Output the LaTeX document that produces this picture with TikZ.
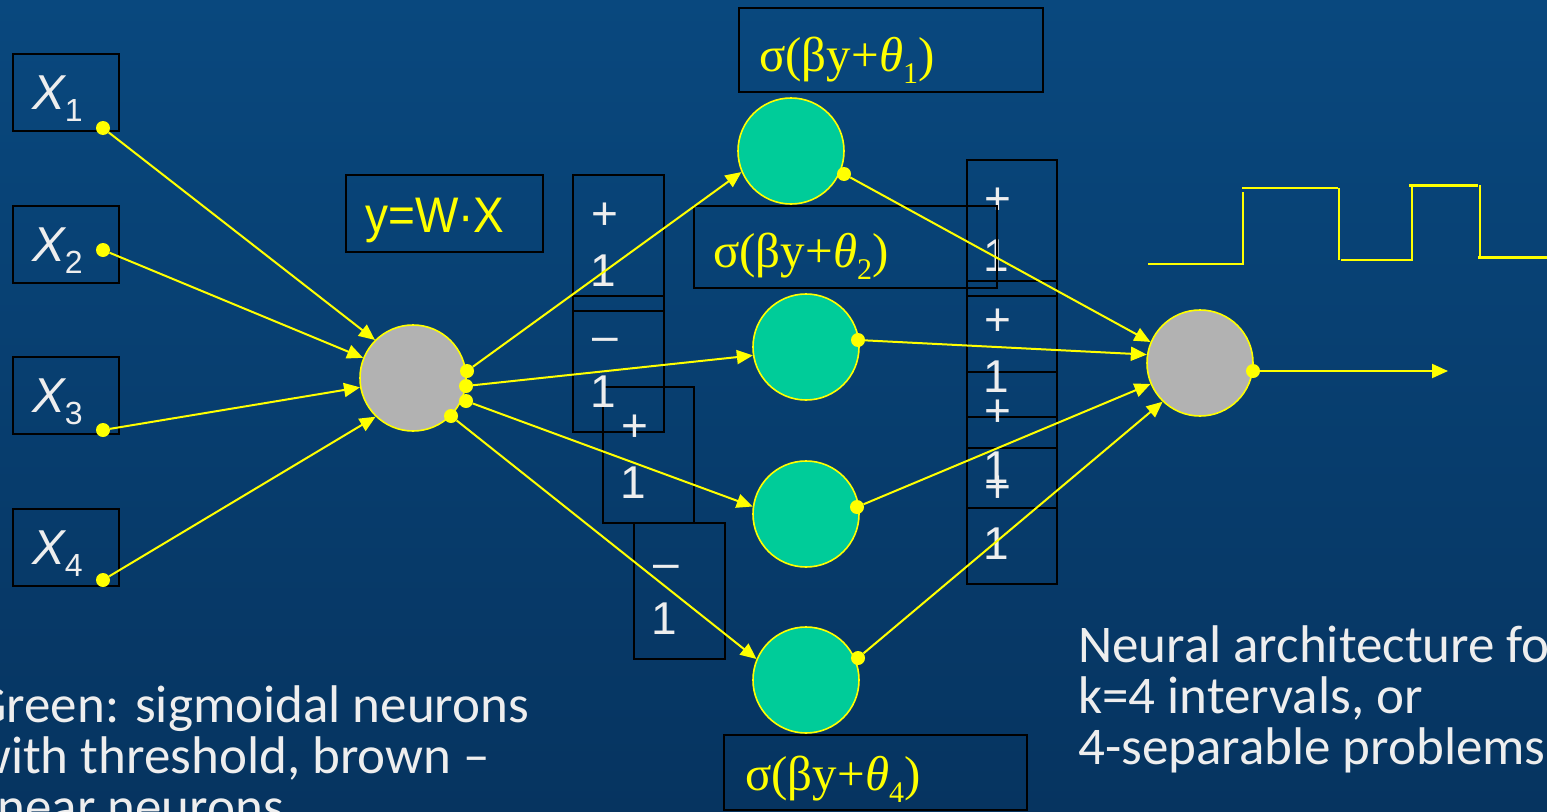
\documentclass[tikz,border=0pt]{standalone}
\usepackage{fontspec}
\setmainfont{Carlito}
\newfontfamily\arialf{Liberation Sans}
\newfontfamily\tnrf{Liberation Serif}
\usetikzlibrary{arrows.meta}
\definecolor{bgtop}{RGB}{9,72,126}
\definecolor{bgmid}{RGB}{10,72,128}
\definecolor{bgbot}{RGB}{6,52,96}
\definecolor{neurgreen}{RGB}{0,204,153}
\definecolor{neurgray}{RGB}{178,178,178}
\definecolor{softwhite}{RGB}{238,238,238}
\definecolor{ylw}{RGB}{255,255,0}
\newcommand\xsub[1]{\raisebox{-12pt}{\fontsize{32}{32}\selectfont\upshape #1}}
\newcommand\ssub[1]{\raisebox{-12pt}{\fontsize{30}{30}\selectfont #1}}
\newcommand\sigtext[1]{σ(βy+{\itshape θ}\ssub{#1})}
\tikzset{
  bx/.style={draw=black, line width=2pt, inner sep=0pt, anchor=north west},
  neuron/.style={circle, draw=ylw, line width=1.6pt, minimum size=106pt, inner sep=0pt},
  dot/.style={circle, fill=ylw, minimum size=14pt, inner sep=0pt},
  conn/.style={draw=ylw, line width=2pt, -{Triangle[length=16pt,width=14pt]}},
  stepline/.style={draw=ylw, line width=2.2pt},
  xlab/.style={font=\arialf\itshape\fontsize{49}{49}\selectfont, text=softwhite, anchor=base west, inner sep=0pt},
  pmtext/.style={font=\arialf\fontsize{46}{46}\selectfont, text=softwhite, anchor=base, inner sep=0pt},
  sigma/.style={font=\tnrf\fontsize{49}{49}\selectfont, text=ylw, anchor=base west, inner sep=0pt},
  body/.style={font=\fontsize{53}{51}\selectfont, text=softwhite, anchor=base west, inner sep=0pt},
}
\begin{document}
\begin{tikzpicture}[x=1pt,y=-1pt]
\useasboundingbox (0,0) rectangle (1547,811);
\begin{scope}
\clip (0,0) rectangle (1547,811);
\shade[top color=bgtop, middle color=bgmid, bottom color=bgbot] (0,0) rectangle (1547,811);

% input boxes
\node[bx, minimum width=106pt, minimum height=77pt] (bx1) at (12,53) {};
\node[bx, minimum width=106pt, minimum height=77pt] (bx2) at (12,205) {};
\node[bx, minimum width=106pt, minimum height=77pt] (bx3) at (12,356) {};
\node[bx, minimum width=106pt, minimum height=77pt] (bx4) at (12,508) {};
\node[xlab] (xl1) at (32,109) {X\xsub{1}};
\node[xlab] (xl2) at (32,261) {X\xsub{2}};
\node[xlab] (xl3) at (32,412) {X\xsub{3}};
\node[xlab] (xl4) at (32,564) {X\xsub{4}};

% y = W.X box
\node[bx, minimum width=197pt, minimum height=77pt] (wx) at (345,174) {};
\node[font=\arialf\fontsize{50}{50}\selectfont, text=ylw, anchor=base west, inner sep=0pt] (wxt) at (365,232) {\scalebox{0.92}[1]{y=W·X}};

% weight boxes, first column
\node[bx, minimum width=91pt, minimum height=136pt] (pa) at (572,174) {};
\node[bx, minimum width=91pt, minimum height=136pt] (pb) at (572,295) {};
\node[bx, minimum width=91pt, minimum height=136pt] (pc) at (602,386) {};
\node[bx, minimum width=91pt, minimum height=136pt] (pd) at (633,522) {};
\node[pmtext] (pa1) at (605,229) {+};
\node[pmtext] (pa2) at (603,286) {1};
\node[pmtext] (pb1) at (605,351) {–};
\node[pmtext] (pb2) at (603,407) {1};
\node[pmtext] (pc1) at (635,441) {+};
\node[pmtext] (pc2) at (633,498) {1};
\node[pmtext] (pd1) at (666,578) {–};
\node[pmtext] (pd2) at (664,634) {1};

% weight boxes, second column
\node[bx, minimum width=90pt, minimum height=136pt] (qa) at (966,159) {};
\node[bx, minimum width=90pt, minimum height=136pt] (qb) at (966,280) {};
\node[bx, minimum width=90pt, minimum height=136pt] (qc) at (966,371) {};
\node[bx, minimum width=90pt, minimum height=136pt] (qd) at (966,447) {};
\node[pmtext] (qa1) at (998,214) {+};
\node[pmtext] (qa2) at (996,271) {1};
\node[pmtext] (qb1) at (998,335) {+};
\node[pmtext] (qb2) at (996,392) {1};
\node[pmtext] (qc1) at (998,426) {+};
\node[pmtext] (qc2) at (996,483) {1};
\node[pmtext] (qd1) at (998,502) {+};
\node[pmtext] (qd2) at (996,559) {1};

% sigma boxes
\node[bx, minimum width=304pt, minimum height=84pt] (s1) at (738,7) {};
\node[bx, minimum width=303pt, minimum height=82pt] (s2) at (693,205) {};
\node[bx, minimum width=303pt, minimum height=75pt] (s4) at (723,734) {};
\node[sigma] (s1t) at (759,71) {\sigtext{1}};
\node[sigma] (s2t) at (713,267) {\sigtext{2}};
\node[sigma] (s4t) at (745,790) {\sigtext{4}};

% neurons
\node[neuron, fill=neurgray] (hid) at (413,378) {};
\node[neuron, fill=neurgreen] (g1) at (791,151) {};
\node[neuron, fill=neurgreen] (g2) at (806,347) {};
\node[neuron, fill=neurgreen] (g3) at (806,514) {};
\node[neuron, fill=neurgreen] (g4) at (806,680) {};
\node[neuron, fill=neurgray] (out) at (1200,363) {};

% dots
\node[dot] (dx1) at (103,128) {};
\node[dot] (dx2) at (103,250) {};
\node[dot] (dx3) at (103,430) {};
\node[dot] (dx4) at (103,580) {};
\node[dot] (dh1) at (467,371) {};
\node[dot] (dh2) at (466,386) {};
\node[dot] (dh3) at (466,401) {};
\node[dot] (dh4) at (451,416) {};
\node[dot] (dg1) at (844,174) {};
\node[dot] (dg2) at (858,340) {};
\node[dot] (dg3) at (857,507) {};
\node[dot] (dg4) at (858,658) {};
\node[dot] (dout) at (1253,371) {};
\coordinate (outend) at (1448,371);

% connectors
\draw[conn] (dx1) -- (hid.135);
\draw[conn] (dx2) -- (hid.158);
\draw[conn] (dx3) -- (hid.190);
\draw[conn] (dx4) -- (hid.226);
\draw[conn] (dh1) -- (g1.203);
\draw[conn] (dh2) -- (g2.189);
\draw[conn] (dh3) -- (g3.172);
\draw[conn] (dh4) -- (g4.157);
\draw[conn] (dg1) -- (out.157);
\draw[conn] (dg2) -- (out.171);
\draw[conn] (dg3) -- (out.203);
\draw[conn] (dg4) -- (out.226);
\draw[conn] (dout) -- (outend);

% step function
\draw[stepline] (1148,264) -- (1244,264);
\draw[stepline] (1243,192) -- (1243,264);
\draw[stepline] (1242,188) -- (1338,188);
\draw[stepline] (1339,188) -- (1339,260);
\draw[stepline] (1341,260) -- (1413,260);
\draw[stepline] (1412,186) -- (1412,260);
\draw[stepline, line width=3pt] (1409,185) -- (1478,185);
\draw[stepline] (1480,185) -- (1480,257);
\draw[stepline, line width=3pt] (1478,257) -- (1547,257);

% texts
\node[body] (tl1) at (-27,722) {Green: sigmoidal neurons};
\node[body] (tl2) at (-27,773) {with threshold, brown –};
\node[body] (tl3) at (-27,824) {linear neurons};
\node[body] (tr1) at (1078,662) {Neural architecture for};
\node[body] (tr2) at (1078,713) {k=4 intervals, or};
\node[body] (tr3) at (1078,764) {4-separable problems.};
\end{scope}
\end{tikzpicture}
\end{document}
